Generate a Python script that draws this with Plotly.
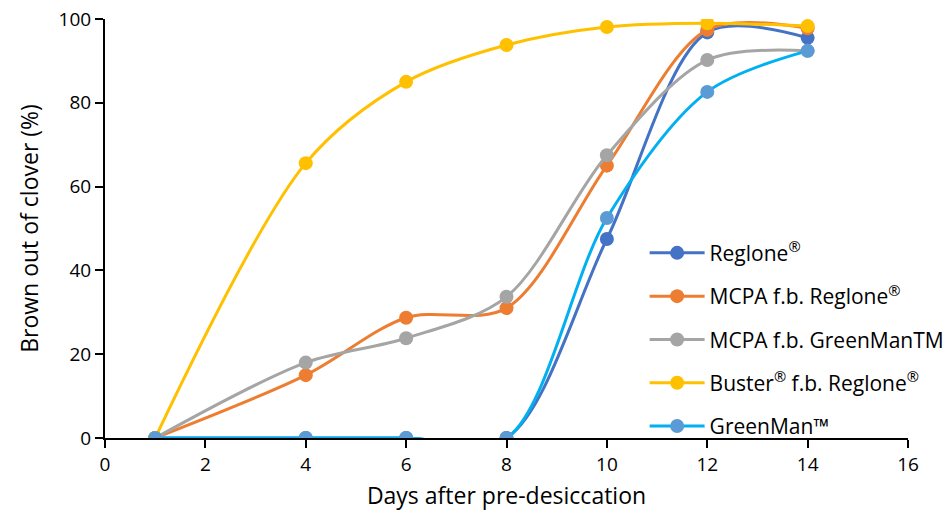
import plotly.graph_objects as go

days = [1, 4, 6, 8, 10, 12, 14]

series_names = [
    "Reglone<sup>®</sup>",
    "MCPA f.b. Reglone<sup>®</sup>",
    "MCPA f.b. GreenManTM",
    "Buster<sup>®</sup> f.b. Reglone<sup>®</sup>",
    "GreenMan™",
]
reglone = [0, 0, 0, 0, 47.5, 96.8, 95.5]
mcpa_reglone = [0, 15.0, 28.7, 31.0, 65.0, 97.4, 97.8]
mcpa_greenman = [0, 18.0, 23.8, 33.7, 67.5, 90.2, 92.4]
buster_reglone = [0, 65.6, 85.0, 93.8, 98.1, 99.0, 98.3]
greenman = [0, 0, 0, 0, 52.5, 82.6, 92.4]

line_colors = ["#4472C4", "#ED7D31", "#A5A5A5", "#FFC000", "#00B0F0"]
marker_colors = ["#4472C4", "#ED7D31", "#A5A5A5", "#FFC000", "#5B9BD5"]
values = [reglone, mcpa_reglone, mcpa_greenman, buster_reglone, greenman]

fig = go.Figure()
for i, (name, ys, lc, mc) in enumerate(zip(series_names, values, line_colors, marker_colors)):
    fig.add_trace(go.Scatter(
        x=days, y=ys, name=name, legendgroup=f"g{i}",
        mode="lines+markers",
        line=dict(color=lc, width=3, shape="spline", smoothing=0.9),
        marker=dict(color=mc, size=14),
    ))

font_family = "'Open Sans', sans-serif"
fig.update_layout(
    width=950, height=524,
    margin=dict(l=105, r=42, t=19, b=86, autoexpand=False),
    paper_bgcolor="white", plot_bgcolor="white",
    font=dict(family=font_family, size=18, color="black"),
    showlegend=True,
    legend=dict(
        x=0.672, y=0.49, xanchor="left", yanchor="top",
        font=dict(size=21, family=font_family),
        itemwidth=55, tracegroupgap=13,
        bgcolor="rgba(0,0,0,0)",
    ),
    xaxis=dict(
        range=[0, 16], tickvals=[0, 2, 4, 6, 8, 10, 12, 14, 16],
        showgrid=False, zeroline=False, automargin=False,
        showline=True, linecolor="black", linewidth=2,
        ticks="outside", ticklen=8, tickwidth=2, tickcolor="black",
        tickfont=dict(size=19),
        title=dict(text="Days after pre-desiccation", font=dict(size=23), standoff=12),
    ),
    yaxis=dict(
        range=[0, 100], tickvals=[0, 20, 40, 60, 80, 100],
        showgrid=False, zeroline=False, automargin=False,
        showline=True, linecolor="black", linewidth=2,
        ticks="outside", ticklen=8, tickwidth=2, tickcolor="black",
        tickfont=dict(size=19),
        title=dict(text="Brown out of clover (%)", font=dict(size=23), standoff=14),
    ),
)

fig.write_html("out.html")
